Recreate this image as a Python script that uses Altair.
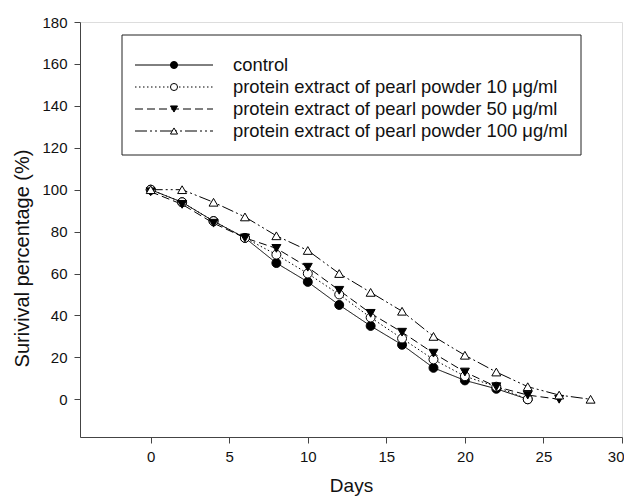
import altair as alt
import pandas as pd

# ---- data ----
series_names = [
    "control",
    "protein extract of pearl powder 10 \u03bcg/ml",
    "protein extract of pearl powder 50 \u03bcg/ml",
    "protein extract of pearl powder 100 \u03bcg/ml",
]
control_days = [0, 2, 4, 6, 8, 10, 12, 14, 16, 18, 20, 22, 24]
control_vals = [100, 94, 85, 77, 65, 56, 45, 35, 26, 15, 9, 5, 0]
p10_days = [0, 2, 4, 6, 8, 10, 12, 14, 16, 18, 20, 22, 24]
p10_vals = [100, 94, 85, 77, 69, 60, 50, 39, 29, 19, 11, 6, 0]
p50_days = [0, 2, 4, 6, 8, 10, 12, 14, 16, 18, 20, 22, 24, 26]
p50_vals = [99, 93, 84, 77, 72, 63, 52, 41, 32, 22, 13, 6, 2, 0]
p100_days = [0, 2, 4, 6, 8, 10, 12, 14, 16, 18, 20, 22, 24, 26, 28]
p100_vals = [100, 100, 94, 87, 78, 71, 60, 51, 42, 30, 21, 13, 6, 2, 0]

x_ticks = [0, 5, 10, 15, 20, 25, 30]
y_ticks = [0, 20, 40, 60, 80, 100, 120, 140, 160, 180]

rows = []
for name, ds, vs in zip(series_names,
                        [control_days, p10_days, p50_days, p100_days],
                        [control_vals, p10_vals, p50_vals, p100_vals]):
    for d, v in zip(ds, vs):
        rows.append({"day": d, "value": v, "series": name})
df = pd.DataFrame(rows)

FONT = "Liberation Sans"
dash_range = [[1, 0], [1.5, 2.5], [8, 4], [12, 3, 2, 3, 2, 3]]
shape_range = ["circle", "circle", "triangle-down", "triangle-up"]
fill_range = ["black", "white", "black", "white"]

W, H = 542, 415

xscale = alt.Scale(domain=[-4.5, 30], nice=False, zero=False)
yscale = alt.Scale(domain=[-18, 180], nice=False, zero=False)

dash_enc = alt.StrokeDash("series:N", scale=alt.Scale(domain=series_names, range=dash_range), legend=None)
shape_enc = alt.Shape("series:N", scale=alt.Scale(domain=series_names, range=shape_range), legend=None)
fill_enc = alt.Fill("series:N", scale=alt.Scale(domain=series_names, range=fill_range), legend=None)

base = alt.Chart(df)
lines = base.mark_line(color="black", strokeWidth=1).encode(
    x=alt.X("day:Q", scale=xscale, axis=alt.Axis(
        values=x_ticks, title="Days", grid=False, tickSize=6, labelPadding=6,
        labelFontSize=15, titleFontSize=19, titleFontWeight="normal",
        labelFont=FONT, titleFont=FONT, labelColor="#111", titleColor="#111",
        domainColor="#444", tickColor="#444", titlePadding=12,
        labelFlush=1, labelFlushOffset=2)),
    y=alt.Y("value:Q", scale=yscale, axis=alt.Axis(
        values=y_ticks, title="Surivival percentage (%)", grid=False, tickSize=6,
        labelPadding=7, labelFontSize=15, titleFontSize=20, titleFontWeight="normal",
        labelFont=FONT, titleFont=FONT, labelColor="#111", titleColor="#111",
        domainColor="#444", tickColor="#444", titleX=-48, titleY=236,
        titleBaseline="bottom", labelFlush=False)),
    strokeDash=dash_enc,
    detail="series:N",
    order="day:Q",
)
points = base.mark_point(filled=True, stroke="black", strokeWidth=1, size=80, opacity=1).encode(
    x=alt.X("day:Q", scale=xscale),
    y=alt.Y("value:Q", scale=yscale),
    shape=shape_enc,
    fill=fill_enc,
)

# ---- hand-drawn legend box ----
leg = pd.DataFrame({"series": series_names})
leg["ly"] = [43 + 22 * i for i in range(len(series_names))]

box = alt.Chart(pd.DataFrame({"a": [0]})).mark_rect(
    fill="white", stroke="#222", strokeWidth=1
).encode(x=alt.value(42), x2=alt.value(501), y=alt.value(13), y2=alt.value(133))

leg_lines = alt.Chart(leg).mark_rule(color="black", strokeWidth=1).encode(
    x=alt.value(55), x2=alt.value(133),
    y=alt.Y("ly:Q", scale=None, axis=None),
    strokeDash=dash_enc,
)
leg_pts = alt.Chart(leg).mark_point(filled=True, stroke="black", strokeWidth=1, size=50, opacity=1).encode(
    x=alt.value(94),
    y=alt.Y("ly:Q", scale=None, axis=None),
    shape=shape_enc,
    fill=fill_enc,
)
leg_text = alt.Chart(leg).mark_text(align="left", baseline="middle", fontSize=18.4, font=FONT, color="#111").encode(
    x=alt.value(153),
    y=alt.Y("ly:Q", scale=None, axis=None),
    text="series:N",
)

main = alt.layer(lines, points)
legend = alt.layer(box, leg_lines, leg_pts, leg_text)

chart = alt.layer(main, legend).resolve_scale(
    x="independent", y="independent", strokeDash="independent", shape="independent", fill="independent"
).properties(
    width=W, height=H,
    padding={"left": 72, "top": 14, "right": 2, "bottom": 59},
    autosize=alt.AutoSizeParams(type="none"),
).configure_view(stroke="#444", strokeWidth=1).configure(background="white")

chart.save("out.html", embed_options={"renderer": "svg", "actions": False})
